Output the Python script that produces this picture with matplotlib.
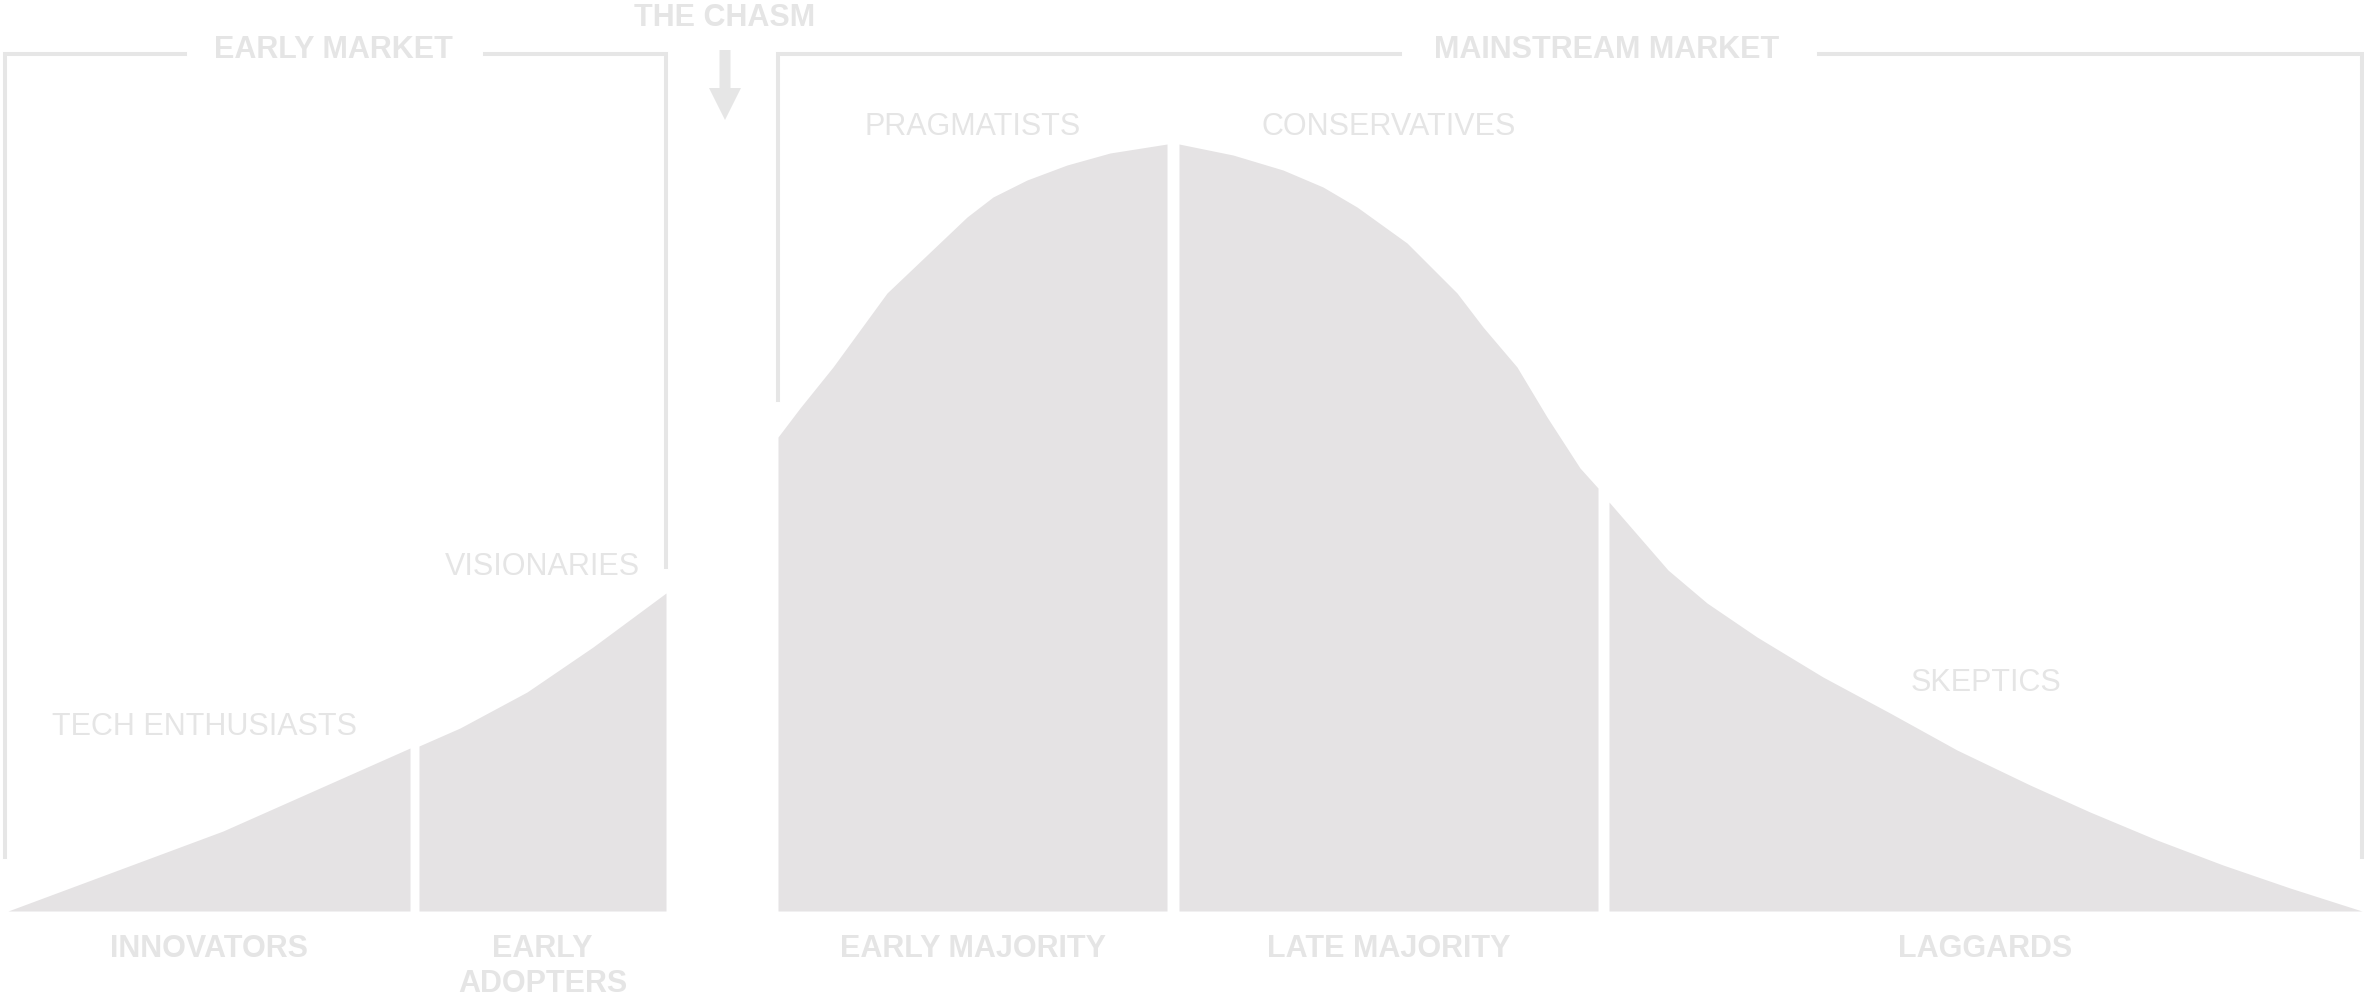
import matplotlib.pyplot as plt
import numpy as np

plt.rcParams['font.family'] = ['Liberation Sans', 'DejaVu Sans']

# Adoption curve, split in five segments (x position, height above baseline)
innov_x = [8, 223, 410]
innov_h = [0, 80, 163]
adopt_x = [419, 460, 527, 593, 666]
adopt_h = [165, 183, 219, 264, 318]
early_maj_x = [778, 800, 833, 860, 887, 927, 967, 993, 1027, 1067, 1110, 1167]
early_maj_h = [474, 503, 544, 581, 618, 656, 694, 714, 731, 746, 758, 767]
late_maj_x = [1179, 1233, 1283, 1323, 1357, 1407, 1457, 1483, 1517, 1547, 1580, 1598]
late_maj_h = [767, 756, 741, 724, 704, 668, 618, 584, 544, 494, 443, 423]
lagg_x = [1609, 1668, 1707, 1757, 1823, 1890, 1957, 2030, 2090, 2157, 2223, 2290, 2362]
lagg_h = [409, 341, 308, 274, 234, 198, 161, 126, 99, 71, 46, 23, 0]

segments = [(innov_x, innov_h), (adopt_x, adopt_h), (early_maj_x, early_maj_h),
            (late_maj_x, late_maj_h), (lagg_x, lagg_h)]
group_labels = ['INNOVATORS', 'EARLY\nADOPTERS', 'EARLY MAJORITY', 'LATE MAJORITY', 'LAGGARDS']
persona_labels = ['TECH ENTHUSIASTS', 'VISIONARIES', 'PRAGMATISTS', 'CONSERVATIVES', 'SKEPTICS']
persona_y = [184, 344, 784, 784, 228]

fill_col = '#e5e3e4'
text_col = '#e5e5e5'
line_col = '#e6e6e6'

fig = plt.figure(figsize=(23.64, 10.01), dpi=100)
ax = fig.add_axes([0, 0, 1, 1])
ax.set_xlim(0, 2364)
ax.set_ylim(-90, 911)
ax.axis('off')

for (xs, hs), glab, plab, py in zip(segments, group_labels, persona_labels, persona_y):
    xs = np.array(xs)
    ax.fill_between(xs, 0, hs, color=fill_col, lw=0)
    xc = (xs[0] + xs[-1]) / 2
    ax.text(xc, -23, glab, ha='center', va='top', fontsize=22, fontweight='bold',
            color=text_col, linespacing=1.2)
    ax.text(xc - (5 if plab.startswith('TECH') else 0), py, plab, ha='center',
            va='center', fontsize=22, color=text_col)

# brackets over early market and mainstream market
top = 857
lw = 2.9
em_l, em_r = innov_x[0] - 3, adopt_x[-1]
ax.plot([em_l, em_l, 185], [54, top, top], color=line_col, lw=lw, solid_joinstyle='miter')
ax.plot([485, em_r, em_r], [top, top, 344], color=line_col, lw=lw, solid_joinstyle='miter')
ax.text(333, 861, 'EARLY MARKET', ha='center', va='center', fontsize=22,
        fontweight='bold', color=text_col)

ms_l, ms_r = early_maj_x[0], 2362
ax.plot([ms_l, ms_l, 1400], [511, top, top], color=line_col, lw=lw, solid_joinstyle='miter')
ax.plot([1819, ms_r, ms_r], [top, top, 54], color=line_col, lw=lw, solid_joinstyle='miter')
ax.text(1607, 861, 'MAINSTREAM MARKET', ha='center', va='center', fontsize=22,
        fontweight='bold', color=text_col)

# the chasm
chasm_x = (adopt_x[-1] + early_maj_x[0]) / 2 + 3
ax.text(chasm_x, 893, 'THE CHASM', ha='center', va='center', fontsize=22,
        fontweight='bold', color=text_col)
ax.arrow(chasm_x, 861, 0, -70, width=11, head_width=32, head_length=32,
         length_includes_head=True, color=line_col, lw=0)

fig.savefig('out.png', dpi=100, facecolor='white')
